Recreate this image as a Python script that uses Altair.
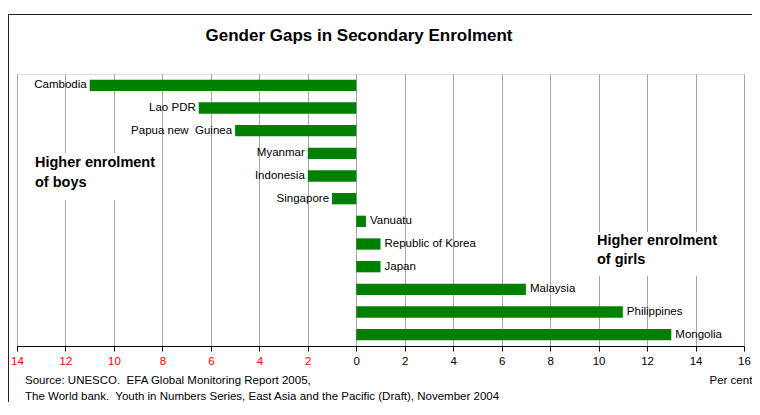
import altair as alt
import pandas as pd

countries = ["Cambodia", "Lao PDR", "Papua new\u00a0 Guinea", "Myanmar", "Indonesia", "Singapore",
             "Vanuatu", "Republic of Korea", "Japan", "Malaysia", "Philippines", "Mongolia"]
gaps = [-11, -6.5, -5, -2, -2, -1, 0.4, 1, 1, 7, 11, 13]
tick_values = list(range(-14, 17, 2))
title_text = "Gender Gaps in Secondary Enrolment"
boys_text = ["Higher enrolment", "of boys"]
girls_text = ["Higher enrolment", "of girls"]
source_lines = ["Source: UNESCO.\u00a0 EFA Global Monitoring Report 2005,",
                "The World bank.\u00a0 Youth in Numbers Series, East Asia and the Pacific (Draft), November 2004"]

FONT = "Liberation Sans"
df = pd.DataFrame({"country": countries, "gap": gaps})
one = pd.DataFrame({"k": [0]})

ysc = alt.Y("country:N", sort=countries, axis=None,
            scale=alt.Scale(paddingInner=0.5, paddingOuter=0.25))
xsc = alt.X("gap:Q", scale=alt.Scale(domain=[-14, 16], nice=False, zero=False),
            axis=alt.Axis(values=tick_values, grid=True, gridColor="#a6a6a6", gridWidth=1,
                          domainColor="#000000", tickColor="#000000", tickSize=5,
                          labelExpr="'' + abs(datum.value)", labelFont=FONT, labelFontSize=11.5,
                          labelPadding=4, labelFlush=False, labelOverlap=False,
                          labelColor=alt.condition("datum.value < 0", alt.value("#ff0000"), alt.value("#000000")),
                          title="Per cent", titleFont=FONT, titleFontSize=11.5, titleFontWeight="normal",
                          titleX=692, titleY=34, titleAlign="left", titleBaseline="middle",
                          titleColor="#000000"))

frame = alt.Chart(one).mark_rect(fill="white", fillOpacity=0, stroke="#222222", strokeWidth=1).encode(
    x=alt.value(-8.5), x2=alt.value(900), y=alt.value(-59.5), y2=alt.value(500))

base = alt.Chart(df)
bars = base.mark_bar(color="#008000").encode(x=xsc, x2=alt.datum(0), y=ysc)

neg_lbl = base.transform_filter("datum.gap < 0").mark_text(
    align="right", baseline="middle", dx=-3, font=FONT, fontSize=11.5, color="#000000"
).encode(x="gap:Q", y=alt.Y("country:N", sort=countries), text="country:N")
pos_lbl = base.transform_filter("datum.gap >= 0").mark_text(
    align="left", baseline="middle", dx=4, font=FONT, fontSize=11.5, color="#000000"
).encode(x="gap:Q", y=alt.Y("country:N", sort=countries), text="country:N")

mask_boys = alt.Chart(one).mark_rect(color="white").encode(
    x=alt.value(16), x2=alt.value(124), y=alt.value(79), y2=alt.value(126))
mask_girls = alt.Chart(one).mark_rect(color="white").encode(
    x=alt.value(578), x2=alt.value(706), y=alt.value(158), y2=alt.value(202))

boys = alt.Chart(one).mark_text(align="left", baseline="middle", font=FONT, fontSize=14.5,
                                fontWeight="bold", lineHeight=20, color="#000000").encode(
    text=alt.value(boys_text), x=alt.value(18), y=alt.value(89))
girls = alt.Chart(one).mark_text(align="left", baseline="middle", font=FONT, fontSize=14.5,
                                 fontWeight="bold", lineHeight=19, color="#000000").encode(
    text=alt.value(girls_text), x=alt.value(580), y=alt.value(167))

title = alt.Chart(one).mark_text(align="center", baseline="middle", font=FONT, fontSize=17,
                                 fontWeight="bold", color="#000000").encode(
    text=alt.value(title_text), x=alt.value(342), y=alt.value(-38))

src = alt.Chart(one).mark_text(align="left", baseline="middle", font=FONT, fontSize=11.5,
                               lineHeight=16, color="#000000").encode(
    text=alt.value(source_lines), x=alt.value(8), y=alt.value(307))

chart = alt.layer(frame, mask_boys, mask_girls, bars, neg_lbl, pos_lbl, boys, girls, title, src).properties(
    width=727, height=272,
    autosize=alt.AutoSizeParams(type="none"),
    padding={"left": 9, "top": 66, "right": 8, "bottom": 56},
).configure_view(stroke="#a6a6a6", strokeWidth=1).configure(background="white")

chart.save("out.html", embed_options={"renderer": "svg", "actions": False})
